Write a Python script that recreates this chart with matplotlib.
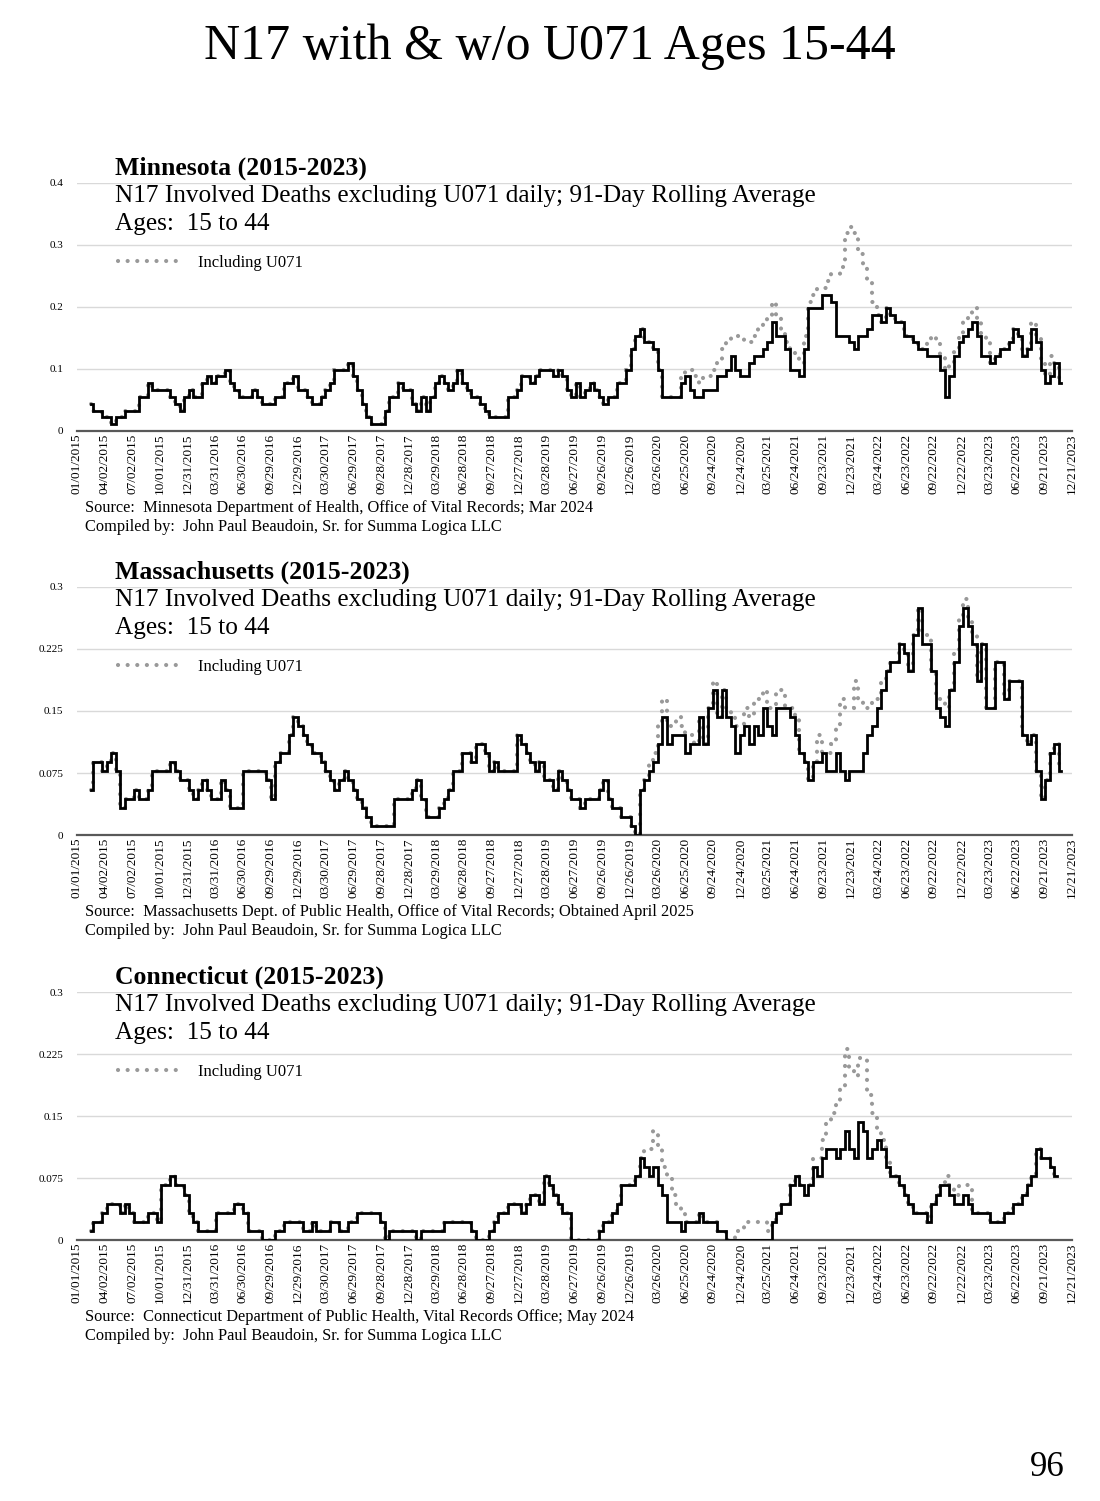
import numpy as np
import matplotlib
matplotlib.use("Agg")
import matplotlib.pyplot as plt
import matplotlib.dates as mdates
from matplotlib.lines import Line2D

plt.rcParams['font.family'] = ['Liberation Serif', 'DejaVu Serif']

# ---------------- data ----------------
WINDOW_DAYS = 91                 # 91-day rolling window (counts / 91 = daily average)
SAMPLE_START = '2015-02-15'      # first centred 91-day window
SAMPLE_STEP_DAYS = 15            # one reading every 15 days
AXIS_START = '2015-01-01'
AXIS_END = '2023-12-21'
TICK_STEP_DAYS = 91

# deaths in the 91-day window, N17 excluding U071
mn_counts = [4, 3, 3, 2, 2, 1, 2, 2, 3, 3,
             3, 5, 5, 7, 6, 6, 6, 6, 5, 4,
             3, 5, 6, 5, 5, 7, 8, 7, 8, 8,
             9, 7, 6, 5, 5, 5, 6, 5, 4, 4,
             4, 5, 5, 7, 7, 8, 6, 6, 5, 4,
             4, 5, 6, 7, 9, 9, 9, 10, 8, 6,
             4, 2, 1, 1, 1, 3, 5, 5, 7, 6,
             6, 4, 3, 5, 3, 5, 7, 8, 7, 6,
             7, 9, 7, 6, 5, 5, 4, 3, 2, 2,
             2, 2, 5, 5, 6, 8, 8, 7, 8, 9,
             9, 9, 8, 9, 8, 6, 5, 7, 5, 6,
             7, 6, 5, 4, 5, 5, 7, 7, 9, 12,
             14, 15, 13, 13, 12, 9, 5, 5, 5, 5,
             7, 8, 6, 5, 5, 6, 6, 6, 8, 8,
             9, 11, 9, 8, 8, 10, 11, 11, 12, 13,
             16, 14, 14, 12, 9, 9, 8, 12, 18, 18,
             18, 20, 20, 19, 14, 14, 14, 13, 12, 14,
             14, 15, 17, 17, 16, 18, 17, 16, 16, 14,
             14, 13, 12, 12, 11, 11, 11, 9, 5, 8,
             11, 13, 14, 15, 16, 14, 11, 11, 10, 11,
             12, 12, 13, 15, 14, 11, 12, 15, 13, 9,
             7, 8, 10, 7]
# additional U071-coded deaths in the window (aligned to the end of the series)
mn_u071 = [0, 0, 0, 0, 0, 0, 0, 0, 0, 0,
           1, 1, 3, 3, 2, 2, 2, 3, 2, 4,
           4, 3, 5, 6, 5, 3, 3, 4, 4, 4,
           3, 3, 1, 1, 3, 2, 2, 2, 1, 2,
           3, 1, 2, 4, 9, 10, 15, 17, 17, 12,
           10, 7, 2, 0, 0, 0, 0, 0, 0, 0,
           0, 0, 0, 0, 2, 3, 2, 2, 4, 2,
           1, 1, 2, 2, 2, 2, 3, 2, 0, 0,
           0, 0, 0, 0, 0, 0, 0, 1, 1, 1,
           1, 3, 0, 0]

ma_counts = [5, 8, 8, 7, 8, 9, 7, 3, 4, 4,
             5, 4, 4, 5, 7, 7, 7, 7, 8, 7,
             6, 6, 5, 4, 5, 6, 5, 4, 4, 6,
             5, 3, 3, 3, 7, 7, 7, 7, 7, 6,
             4, 8, 9, 9, 11, 13, 12, 11, 10, 9,
             9, 8, 7, 6, 5, 6, 7, 6, 5, 4,
             3, 2, 1, 1, 1, 1, 1, 4, 4, 4,
             4, 5, 6, 4, 2, 2, 2, 3, 4, 5,
             7, 7, 9, 9, 8, 10, 10, 9, 7, 8,
             7, 7, 7, 7, 11, 10, 9, 8, 7, 8,
             6, 6, 5, 7, 6, 5, 4, 4, 3, 4,
             4, 4, 5, 6, 4, 3, 3, 2, 2, 1,
             0, 5, 6, 7, 8, 10, 13, 10, 11, 11,
             11, 9, 10, 10, 13, 10, 14, 16, 13, 16,
             13, 12, 9, 11, 12, 10, 12, 11, 14, 12,
             11, 14, 14, 14, 13, 11, 9, 8, 6, 8,
             8, 9, 7, 7, 9, 7, 6, 7, 7, 7,
             9, 11, 12, 14, 16, 18, 19, 19, 21, 20,
             18, 22, 25, 21, 21, 18, 14, 13, 12, 16,
             19, 23, 25, 23, 21, 17, 21, 14, 14, 19,
             19, 15, 17, 17, 17, 11, 10, 11, 7, 4,
             6, 9, 10, 7]
ma_u071 = [0, 0, 0, 1, 1, 2, 2, 2, 1, 2,
           1, 2, 1, 0, 0, 0, 0, 1, 0, 0,
           1, 1, 3, 1, 2, 3, 3, 4, 2, 2,
           3, 2, 2, 0, 1, 2, 0, 0, 0, 0,
           3, 0, 2, 3, 3, 8, 8, 7, 10, 8,
           5, 3, 3, 1, 1, 0, 0, 0, 0, 0,
           0, 0, 0, 1, 1, 0, 1, 2, 2, 0,
           1, 1, 1, 1, 1, 0, 0, 0, 0, 0,
           0, 0, 0, 0, 0, 0, 0, 0, 0, 0,
           0, 0, 0, 0]

ct_counts = [1, 2, 2, 3, 4, 4, 4, 3, 4, 3,
             2, 2, 2, 3, 3, 2, 6, 6, 7, 6,
             6, 5, 3, 2, 1, 1, 1, 1, 3, 3,
             3, 3, 4, 4, 3, 1, 1, 1, 0, 0,
             0, 1, 1, 2, 2, 2, 2, 1, 1, 2,
             1, 1, 1, 2, 2, 1, 1, 2, 2, 3,
             3, 3, 3, 3, 2, 0, 1, 1, 1, 1,
             1, 1, 0, 1, 1, 1, 1, 1, 2, 2,
             2, 2, 2, 2, 1, 0, 0, 0, 1, 2,
             3, 3, 4, 4, 4, 3, 4, 5, 5, 4,
             7, 6, 5, 4, 3, 3, 0, 0, 0, 0,
             0, 0, 1, 2, 2, 3, 4, 6, 6, 6,
             7, 9, 8, 7, 8, 6, 5, 2, 2, 2,
             1, 2, 2, 2, 3, 2, 2, 2, 1, 1,
             0, 0, 0, 0, 0, 0, 0, 0, 0, 0,
             2, 3, 4, 4, 6, 7, 6, 5, 6, 8,
             7, 9, 10, 10, 9, 10, 12, 10, 9, 13,
             12, 9, 10, 11, 10, 8, 7, 7, 6, 5,
             4, 3, 3, 3, 2, 4, 5, 6, 6, 5,
             4, 4, 5, 4, 3, 3, 3, 3, 2, 2,
             2, 3, 3, 4, 4, 5, 6, 7, 10, 9,
             9, 8, 7]
ct_u071 = [0, 0, 2, 3, 4, 4, 3, 5, 3, 2,
           2, 0, 0, 0, 0, 0, 0, 0, 0, 0,
           0, 0, 1, 1, 2, 2, 2, 2, 2, 1,
           0, 0, 0, 0, 0, 0, 0, 1, 0, 1,
           2, 2, 3, 4, 6, 7, 9, 9, 9, 7,
           8, 7, 4, 1, 1, 1, 0, 0, 0, 0,
           0, 0, 0, 0, 0, 0, 0, 0, 1, 1,
           1, 2, 1, 2, 0, 0, 0, 0, 0, 0,
           0, 0, 0, 0, 0, 0, 0, 0, 0, 0,
           0, 0, 0]

state_titles = ['Minnesota (2015-2023)', 'Massachusetts (2015-2023)', 'Connecticut (2015-2023)']
sources = ['Source:  Minnesota Department of Health, Office of Vital Records; Mar 2024',
           'Source:  Massachusetts Dept. of Public Health, Office of Vital Records; Obtained April 2025',
           'Source:  Connecticut Department of Public Health, Vital Records Office; May 2024']
y_ticks = [[0, 0.1, 0.2, 0.3, 0.4],
           [0, 0.075, 0.15, 0.225, 0.3],
           [0, 0.075, 0.15, 0.225, 0.3]]
y_ticklabels = [['0', '0.1', '0.2', '0.3', '0.4'],
                ['0', '0.075', '0.15', '0.225', '0.3'],
                ['0', '0.075', '0.15', '0.225', '0.3']]
series = [(mn_counts, mn_u071), (ma_counts, ma_u071), (ct_counts, ct_u071)]

SUBTITLE = 'N17 Involved Deaths excluding U071 daily; 91-Day Rolling Average'
AGES = 'Ages:  15 to 44'
COMPILED = 'Compiled by:  John Paul Beaudoin, Sr. for Summa Logica LLC'
MAIN_TITLE = 'N17 with & w/o U071 Ages 15-44'
PAGE = '96'

# ---------------- figure ----------------
W, H = 1100, 1501
fig = plt.figure(figsize=(W / 100, H / 100), dpi=100)
fig.text(0.5, 1 - 47 / H, MAIN_TITLE, fontsize=36, ha='center', va='center')
fig.text(1047 / W, 1 - 1467 / H, PAGE, fontsize=25, ha='center', va='center')

x_left, x_right = 77, 1072
ax_h_px = 248
bottoms_px = [431, 835, 1240]

tick_dates = np.datetime64(AXIS_START) + np.arange(0, 37) * np.timedelta64(TICK_STEP_DAYS, 'D')
GRAY = '#999999'
dot_style = (0, (0.01, 2.3))

for i in range(3):
    counts, extra = series[i]
    counts = np.array(counts, dtype=float)
    incl = counts.copy()
    off = len(counts) - len(extra)
    incl[off:] += np.array(extra, dtype=float)
    dates = np.datetime64(SAMPLE_START) + np.arange(len(counts)) * np.timedelta64(SAMPLE_STEP_DAYS, 'D')

    ax = fig.add_axes([x_left / W, 1 - bottoms_px[i] / H,
                       (x_right - x_left) / W, ax_h_px / H])
    ax.plot(dates, incl / WINDOW_DAYS, drawstyle='steps-mid', color=GRAY, lw=3.0,
            linestyle=dot_style, dash_capstyle='round', zorder=2)
    ax.plot(dates, counts / WINDOW_DAYS, drawstyle='steps-mid', color='black', lw=2.0,
            zorder=3, solid_joinstyle='miter')

    ax.set_xlim(np.datetime64(AXIS_START), np.datetime64(AXIS_END))
    ax.set_ylim(y_ticks[i][0], y_ticks[i][-1])
    ax.set_xticks(tick_dates)
    ax.xaxis.set_major_formatter(mdates.DateFormatter('%m/%d/%Y'))
    ax.tick_params(axis='x', labelrotation=90, labelsize=9.5, length=0, pad=2)
    ax.set_yticks(y_ticks[i])
    ax.set_yticklabels(y_ticklabels[i])
    ax.tick_params(axis='y', labelsize=8, length=0, pad=10)
    ax.grid(axis='y', color='#d9d9d9', lw=1.0, zorder=0)
    ax.set_axisbelow(True)
    for s in ['left', 'right', 'top']:
        ax.spines[s].set_visible(False)
    ax.spines['bottom'].set_color('#595959')
    ax.spines['bottom'].set_linewidth(1.6)

    tx = (115 - x_left) / (x_right - x_left)
    ax.text(tx, 263 / ax_h_px, state_titles[i], transform=ax.transAxes, fontsize=18.5,
            fontweight='bold', ha='left', va='center')
    ax.text(tx, 235 / ax_h_px, SUBTITLE, transform=ax.transAxes, fontsize=18.2,
            ha='left', va='center')
    ax.text(tx, 207 / ax_h_px, AGES, transform=ax.transAxes, fontsize=18.2,
            ha='left', va='center')

    handle = Line2D([], [], color=GRAY, lw=3.0, linestyle=dot_style, dash_capstyle='round')
    ax.legend(handles=[handle], labels=['Including U071'], loc='center left',
              bbox_to_anchor=((118 - x_left) / (x_right - x_left), 168 / ax_h_px),
              frameon=False, fontsize=12, handlelength=3.9, handletextpad=0.9,
              borderpad=0, borderaxespad=0)

    sx = (85 - x_left) / (x_right - x_left)
    ax.text(sx, -77 / ax_h_px, sources[i], transform=ax.transAxes, fontsize=11.8,
            ha='left', va='center')
    ax.text(sx, -96 / ax_h_px, COMPILED, transform=ax.transAxes, fontsize=11.8,
            ha='left', va='center')

fig.savefig('out.png', dpi=100)
